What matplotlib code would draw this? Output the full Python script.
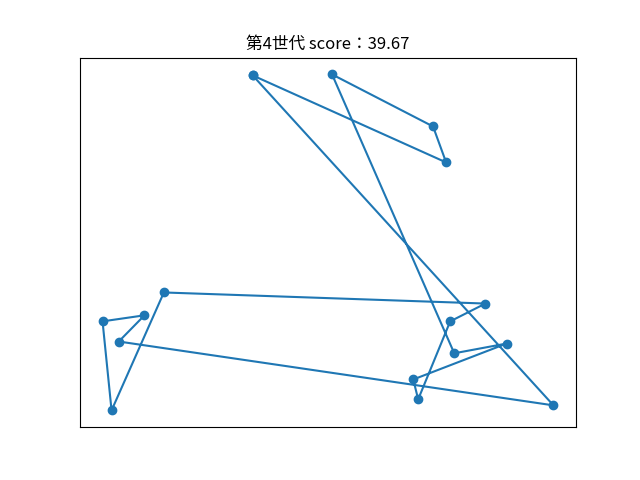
import matplotlib
matplotlib.use("Agg")
import matplotlib.pyplot as plt

plt.rcParams['font.family'] = ['Noto Sans CJK JP', 'DejaVu Sans']

# city coordinates in visiting order (route is closed back to the first city)
route_x = [33.3, 76.2, 73.3, 50.9, 78.0, 89.6, 68.9, 70.0, 77.1, 84.9,
           13.6, 2.0, 0.0, 9.3, 3.6, 100.0]
route_y = [99.7, 73.8, 84.5, 100.0, 17.0, 19.9, 9.2, 3.3, 26.5, 31.8,
           35.1, 0.0, 26.5, 28.3, 20.5, 1.5]
generation = 4
score = 39.67


def plot_route(xs, ys):
    xs = xs + xs[:1]
    ys = ys + ys[:1]
    plt.figure(figsize=(6.4, 4.8))
    plt.plot(xs, ys, marker="o", color="#1f77b4")
    plt.xticks([])
    plt.yticks([])
    plt.title(f"第{generation}世代 score：{score}")
    plt.savefig("out.png", dpi=100)


if __name__ == "__main__":
    plot_route(route_x, route_y)
